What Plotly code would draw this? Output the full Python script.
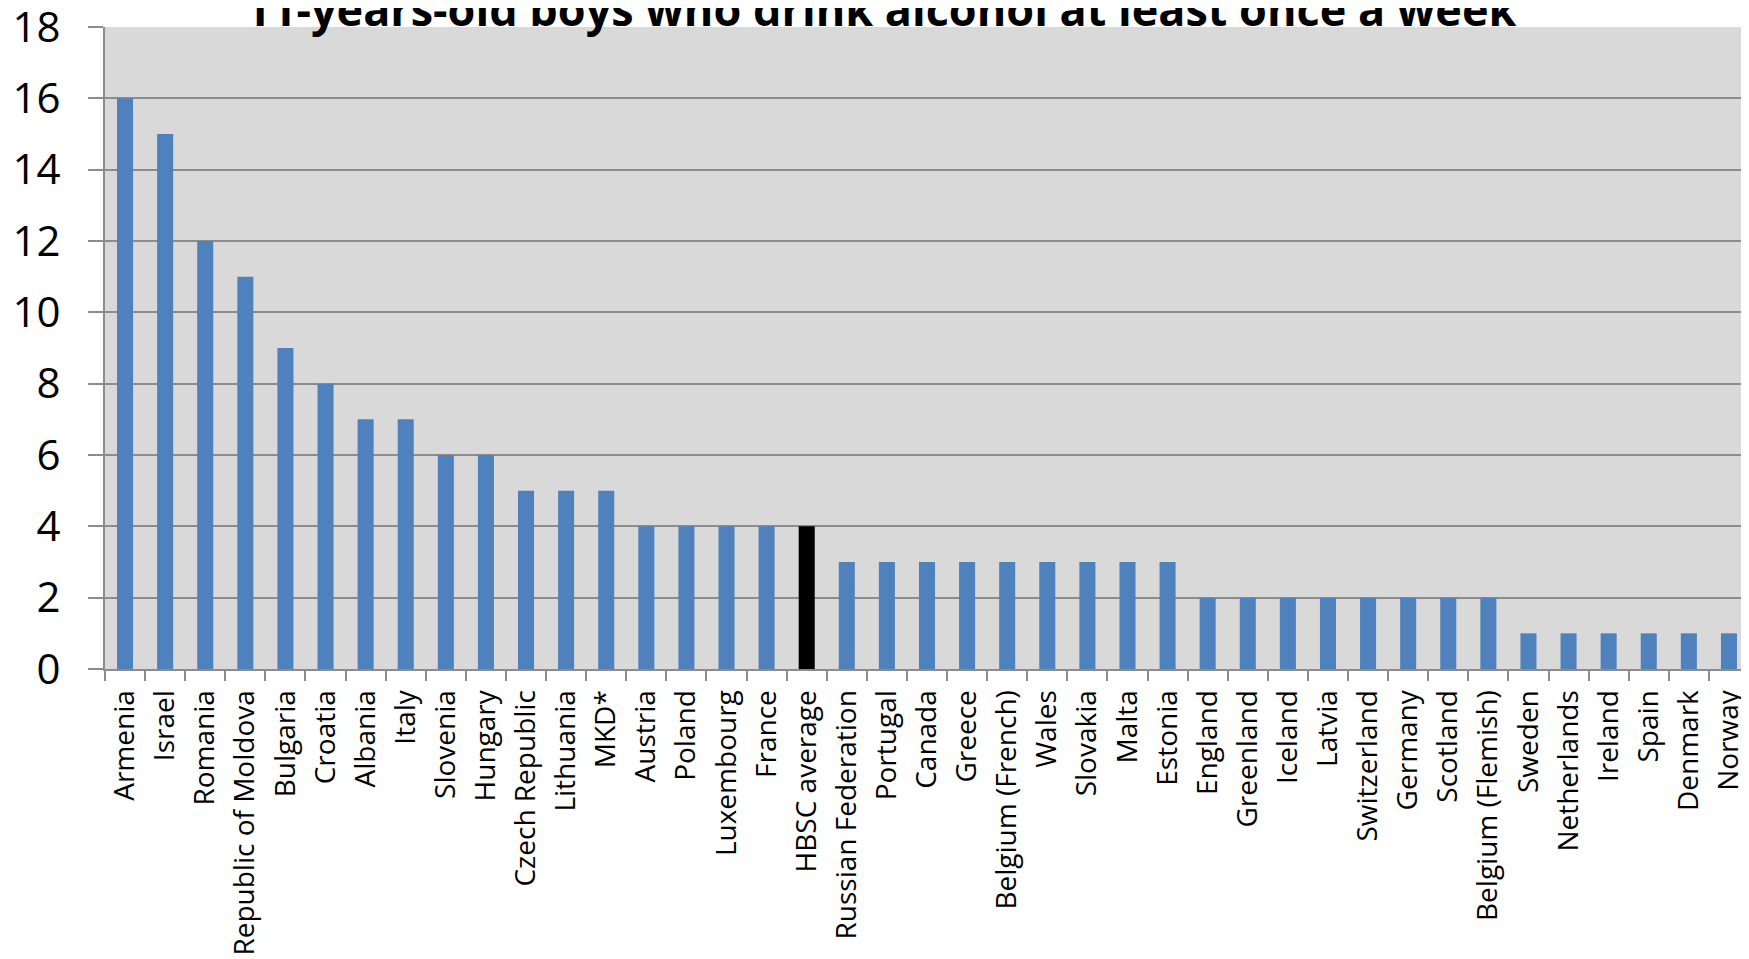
"""
11세 남학생 주 1회 이상 음주 비율 막대 차트
"""
import plotly.graph_objects as go

# 국가 / 값
countries = [
    'Armenia', 'Israel', 'Romania', 'Republic of Moldova', 'Bulgaria', 'Croatia',
    'Albania', 'Italy', 'Slovenia', 'Hungary', 'Czech Republic', 'Lithuania',
    'MKD*', 'Austria', 'Poland', 'Luxembourg', 'France', 'HBSC average',
    'Russian Federation', 'Portugal', 'Canada', 'Greece', 'Belgium (French)',
    'Wales', 'Slovakia', 'Malta', 'Estonia', 'England', 'Greenland', 'Iceland',
    'Latvia', 'Switzerland', 'Germany', 'Scotland', 'Belgium (Flemish)',
    'Sweden', 'Netherlands', 'Ireland', 'Spain', 'Denmark', 'Norway',
]
values = [
    16, 15, 12, 11, 9, 8,
    7, 7, 6, 6, 5, 5,
    5, 4, 4, 4, 4, 4,
    3, 3, 3, 3, 3,
    3, 3, 3, 3, 2, 2, 2,
    2, 2, 2, 2, 2,
    1, 1, 1, 1, 1, 1,
]
highlight = 'HBSC average'
y_ticks = [0, 2, 4, 6, 8, 10, 12, 14, 16, 18]
title_text = '11-years-old boys who drink alcohol at least once a week'

BLUE = '#4F81BD'
GREY = '#8C8C8C'
bar_colors = ['#000000' if c == highlight else BLUE for c in countries]

FONT = 'Open Sans'

fig = go.Figure(go.Bar(
    x=countries,
    y=values,
    marker=dict(color=bar_colors, line=dict(width=0)),
    width=0.4,
))

# 페이지 body 여백(8px) 보정
fig.update_layout(
    width=1741,
    height=951,
    margin=dict(l=97, r=0, t=19, b=290, autoexpand=False),
    paper_bgcolor='white',
    plot_bgcolor='#D9D9D9',
    showlegend=False,
    font=dict(family=FONT, color='black'),
)

fig.update_xaxes(
    type='category',
    automargin=False,
    tickangle=-90,
    tickson='boundaries',
    ticks='outside',
    ticklen=10,
    tickwidth=2,
    tickcolor=GREY,
    showline=True,
    linecolor=GREY,
    linewidth=2,
    showgrid=False,
    tickfont=dict(family=FONT, size=28, color='black'),
    ticklabelstandoff=8,
    ticklabeloverflow='allow',
)

fig.update_yaxes(
    automargin=False,
    range=[0, 18],
    tickvals=y_ticks,
    ticks='outside',
    ticklen=15,
    tickwidth=2,
    tickcolor=GREY,
    showline=True,
    linecolor=GREY,
    linewidth=2,
    showgrid=True,
    gridcolor=GREY,
    gridwidth=2,
    zeroline=False,
    tickfont=dict(family=FONT, size=42, color='black'),
    ticklabelstandoff=19,
    ticklabeloverflow='allow',
)

# 제목 (위쪽이 잘린 상태)
fig.add_annotation(
    text='<b>' + title_text + '</b>',
    xref='paper', yref='paper',
    x=0.472, y=1.0,
    xanchor='center', yanchor='bottom',
    yshift=-14,
    showarrow=False,
    font=dict(family=FONT, size=45, color='black'),
)

fig.write_html('out.html')
